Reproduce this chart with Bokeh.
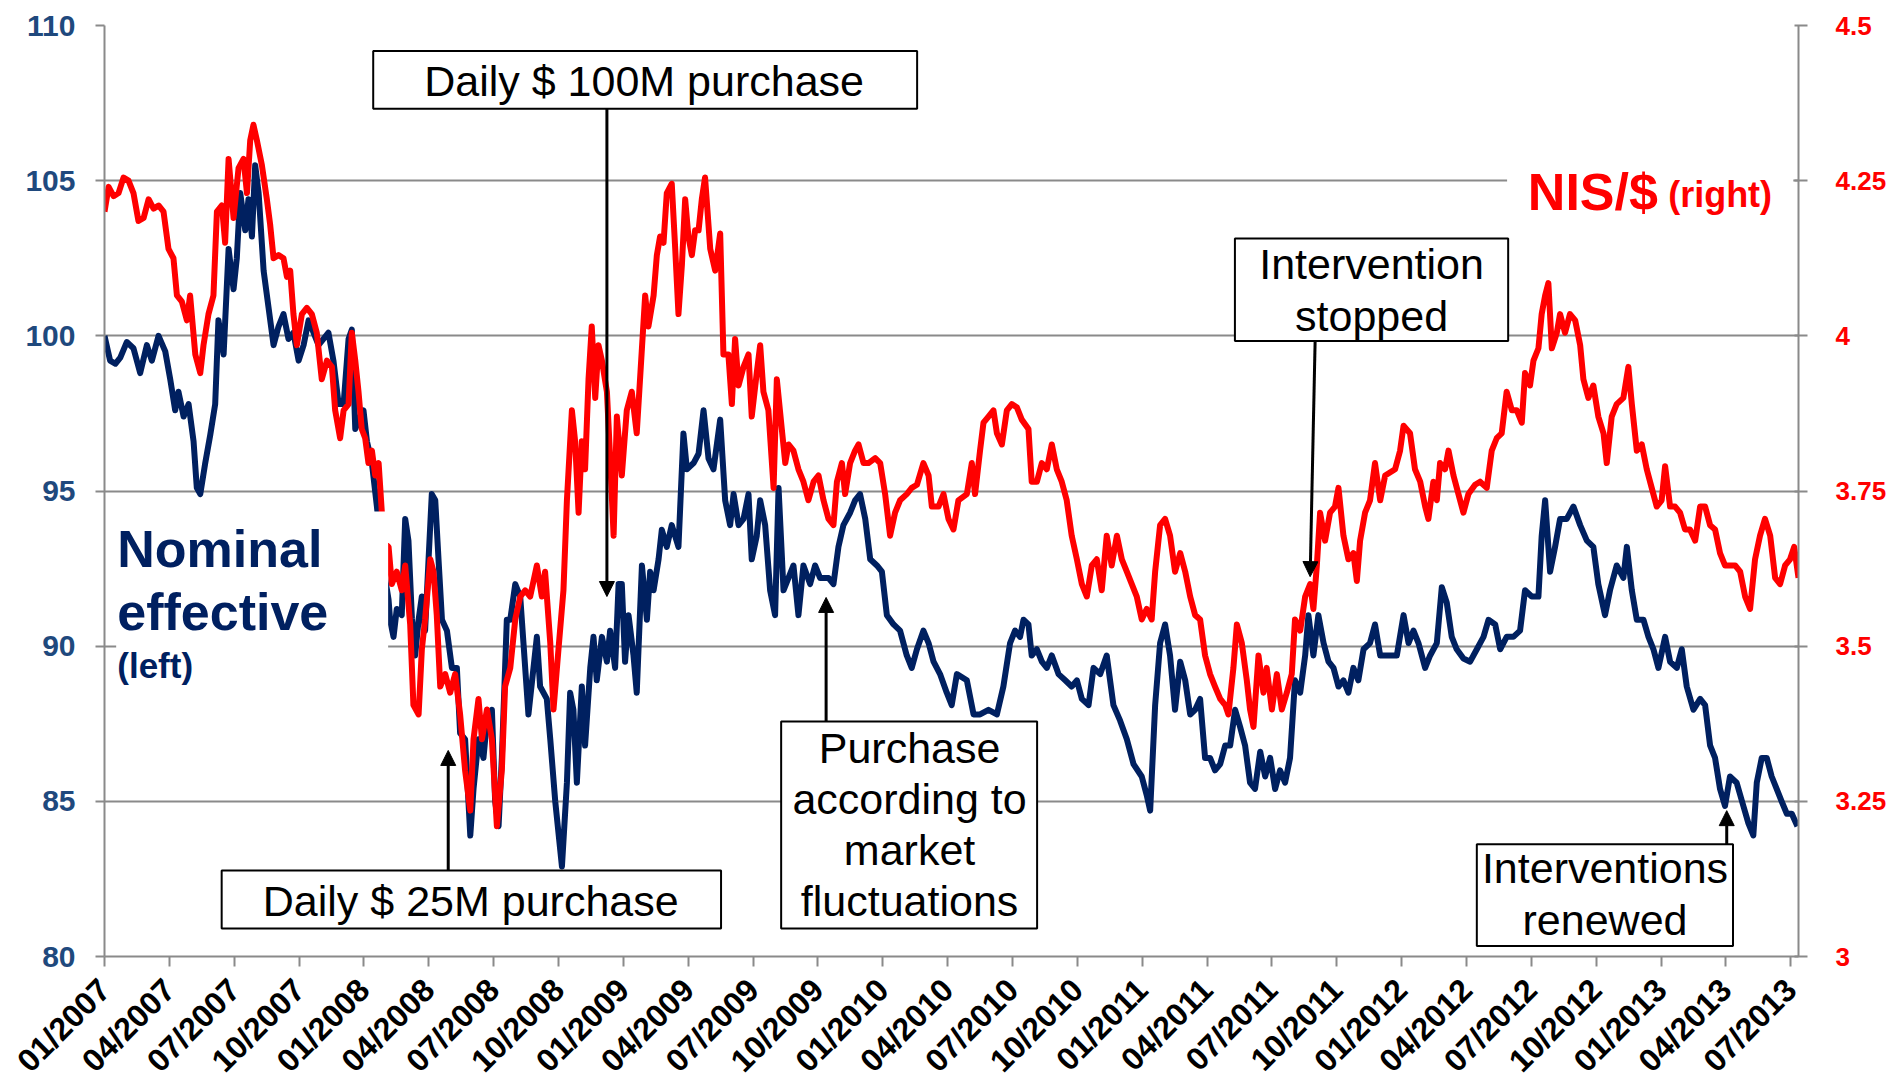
from bokeh.plotting import figure
from bokeh.models import (Range1d, LinearAxis, FixedTicker, NumeralTickFormatter,
                          BoxAnnotation, Label, Arrow, NormalHead, ColumnDataSource)
from bokeh.embed import file_html
from bokeh.resources import INLINE

# ---------------- data (x = months since 01/2007) ----------------
quarter_labels = ["01/2007", "04/2007", "07/2007", "10/2007", "01/2008", "04/2008", "07/2008",
                  "10/2008", "01/2009", "04/2009", "07/2009", "10/2009", "01/2010", "04/2010",
                  "07/2010", "10/2010", "01/2011", "04/2011", "07/2011", "10/2011", "01/2012",
                  "04/2012", "07/2012", "10/2012", "01/2013", "04/2013", "07/2013"]
quarter_pos = [3 * i for i in range(len(quarter_labels))]
left_ticks = [80, 85, 90, 95, 100, 105, 110]
right_ticks = [3.0, 3.25, 3.5, 3.75, 4.0, 4.25, 4.5]

blue_t = [0.00, 0.26, 0.50, 0.73, 1.03, 1.34, 1.65, 1.96, 2.19, 2.50, 2.81, 3.04, 3.27, 3.42, 3.66, 3.89,
          4.12, 4.27, 4.43, 4.66, 4.89, 5.12, 5.27, 5.51, 5.74, 5.97, 6.12, 6.28, 6.51, 6.66, 6.82, 6.97,
          7.13, 7.36, 7.59, 7.82, 8.05, 8.28, 8.51, 8.74, 8.98, 9.21, 9.44, 9.67, 9.90, 10.13, 10.36,
          10.59, 10.83, 11.06, 11.29, 11.44, 11.60, 11.83, 11.98, 12.14, 12.37, 12.60, 12.91, 13.14,
          13.21, 13.37, 13.52, 13.75, 13.91, 14.06, 14.22, 14.37, 14.53, 14.68, 14.83, 14.99, 15.14,
          15.30, 15.45, 15.61, 15.84, 16.07, 16.30, 16.45, 16.68, 16.92, 17.07, 17.30, 17.53, 17.69,
          17.92, 18.07, 18.23, 18.38, 18.61, 18.77, 19.00, 19.23, 19.38, 19.61, 20.00, 20.15, 20.46,
          20.62, 20.85, 21.16, 21.39, 21.54, 21.69, 21.85, 22.08, 22.23, 22.47, 22.62, 22.77, 23.01,
          23.24, 23.39, 23.62, 23.78, 23.93, 24.08, 24.24, 24.47, 24.62, 24.86, 25.09, 25.24, 25.40,
          25.63, 25.78, 26.01, 26.24, 26.55, 26.78, 26.94, 27.25, 27.48, 27.71, 27.94, 28.17, 28.48,
          28.71, 28.94, 29.10, 29.33, 29.56, 29.79, 29.94, 30.17, 30.33, 30.56, 30.79, 31.02, 31.18,
          31.41, 31.64, 31.87, 32.10, 32.33, 32.64, 32.87, 33.10, 33.49, 33.72, 33.95, 34.18, 34.49,
          34.72, 34.95, 35.19, 35.42, 35.73, 35.96, 36.19, 36.50, 36.80, 37.11, 37.34, 37.58, 37.88,
          38.12, 38.35, 38.65, 38.96, 39.19, 39.43, 39.89, 40.20, 40.50, 40.89, 41.28, 41.58, 41.89,
          42.12, 42.35, 42.51, 42.74, 42.89, 43.13, 43.36, 43.59, 43.82, 44.13, 44.44, 44.74, 44.98,
          45.21, 45.52, 45.75, 46.06, 46.36, 46.67, 46.98, 47.29, 47.60, 47.98, 48.21, 48.37, 48.60,
          48.83, 49.06, 49.29, 49.52, 49.76, 49.99, 50.22, 50.45, 50.68, 50.91, 51.14, 51.37, 51.61,
          51.84, 52.07, 52.30, 52.53, 52.76, 52.99, 53.22, 53.46, 53.69, 53.92, 54.15, 54.38, 54.61,
          54.84, 55.07, 55.31, 55.54, 55.69, 55.92, 56.15, 56.39, 56.62, 56.85, 57.08, 57.31, 57.54,
          57.77, 58.00, 58.24, 58.54, 58.77, 59.01, 59.31, 59.78, 60.09, 60.32, 60.55, 60.78, 61.09,
          61.32, 61.63, 61.86, 62.09, 62.32, 62.55, 62.86, 63.17, 63.48, 63.79, 64.02, 64.33, 64.56,
          64.86, 65.17, 65.48, 65.71, 66.02, 66.33, 66.48, 66.64, 66.87, 67.10, 67.33, 67.64, 67.95,
          68.26, 68.57, 68.87, 69.10, 69.41, 69.64, 69.95, 70.26, 70.42, 70.65, 70.88, 71.19, 71.42,
          71.65, 71.88, 72.19, 72.42, 72.73, 72.96, 73.19, 73.50, 73.81, 74.04, 74.27, 74.50, 74.73,
          74.96, 75.19, 75.50, 75.81, 76.04, 76.27, 76.43, 76.66, 76.89, 77.12, 77.35, 77.58, 77.82,
          78.05, 78.31]
blue_v = [100.0, 99.2, 99.1, 99.3, 99.8, 99.6, 98.8, 99.7, 99.2, 100.0, 99.5, 98.6, 97.6, 98.2, 97.4, 97.8,
          96.6, 95.1, 94.9, 95.9, 96.8, 97.8, 100.5, 99.4, 102.8, 101.5, 102.5, 104.6, 103.4, 104.4, 103.2,
          105.5, 104.6, 102.1, 100.9, 99.7, 100.3, 100.7, 99.9, 100.1, 99.2, 99.7, 100.5, 100.1, 99.7,
          99.9, 100.1, 99.2, 97.8, 97.8, 99.9, 100.2, 97.0, 97.4, 97.6, 96.6, 95.9, 94.5, 92.5, 91.5,
          90.85, 90.3, 91.2, 91.0, 94.1, 93.4, 90.9, 89.7, 90.85, 91.6, 90.5, 92.8, 94.9, 94.7, 92.8,
          90.85, 90.5, 89.3, 89.3, 87.2, 87.0, 83.9, 85.4, 87.0, 86.4, 87.6, 87.95, 85.0, 84.2, 86.4,
          90.85, 90.85, 92.0, 91.6, 90.1, 87.8, 90.3, 88.7, 88.3, 87.0, 85.0, 82.9, 85.6, 88.5, 87.95,
          85.6, 88.7, 86.8, 89.3, 90.3, 88.9, 90.3, 89.5, 90.5, 89.3, 92.0, 92.0, 89.5, 91.0, 89.7,
          88.5, 92.6, 90.85, 92.4, 91.8, 92.8, 93.75, 93.2, 93.9, 93.2, 96.85, 95.7, 95.9, 96.2, 97.6,
          96.05, 95.7, 97.3, 94.7, 93.9, 94.9, 93.9, 94.1, 94.9, 92.8, 93.55, 94.7, 93.9, 91.8, 91.0,
          95.1, 91.8, 92.2, 92.6, 91.0, 92.6, 92.0, 92.6, 92.2, 92.2, 92.0, 93.2, 93.9, 94.3, 94.7,
          94.9, 94.1, 92.8, 92.6, 92.4, 91.0, 90.7, 90.5, 89.7, 89.3, 89.9, 90.5, 90.1, 89.5, 89.1,
          88.5, 88.1, 89.1, 88.9, 87.8, 87.8, 87.95, 87.8, 88.7, 90.1, 90.5, 90.3, 90.85, 90.7, 89.7,
          89.9, 89.5, 89.3, 89.7, 89.1, 88.9, 88.7, 88.9, 88.3, 88.1, 89.3, 89.1, 89.7, 88.1, 87.6,
          87.0, 86.2, 85.8, 85.2, 84.7, 88.1, 90.1, 90.7, 89.7, 87.95, 89.5, 88.9, 87.8, 87.95, 88.3,
          86.4, 86.4, 86.0, 86.2, 86.8, 86.8, 87.95, 87.4, 86.8, 85.6, 85.4, 86.6, 85.8, 86.4, 85.4,
          86.0, 85.6, 86.4, 88.9, 88.5, 89.7, 91.0, 89.7, 91.0, 90.1, 89.5, 89.3, 88.7, 88.9, 88.5,
          89.3, 88.9, 89.9, 90.1, 90.7, 89.7, 89.7, 89.7, 91.0, 90.1, 90.5, 90.1, 89.3, 89.7, 90.1,
          91.9, 91.4, 90.3, 89.9, 89.6, 89.5, 89.9, 90.3, 90.85, 90.7, 89.9, 90.3, 90.3, 90.5, 91.8,
          91.6, 91.6, 93.55, 94.7, 92.4, 93.2, 94.1, 94.1, 94.5, 93.9, 93.4, 93.2, 92.0, 91.0, 91.8,
          92.6, 92.2, 93.2, 91.8, 90.85, 90.85, 90.3, 89.9, 89.3, 90.3, 89.5, 89.3, 89.9, 88.7, 87.95,
          88.3, 88.1, 86.8, 86.4, 85.4, 84.85, 85.8, 85.6, 84.85, 84.3, 83.9, 85.6, 86.4, 86.4, 85.8,
          85.4, 85.0, 84.6, 84.6, 84.2]

red_t = [0.00, 0.19, 0.42, 0.65, 0.88, 1.11, 1.34, 1.57, 1.81, 2.04, 2.27, 2.50, 2.73, 2.96, 3.19, 3.35,
         3.58, 3.81, 3.96, 4.20, 4.43, 4.58, 4.81, 5.04, 5.20, 5.43, 5.58, 5.74, 5.97, 6.20, 6.43, 6.59,
         6.74, 6.89, 7.05, 7.28, 7.51, 7.66, 7.82, 8.05, 8.28, 8.44, 8.59, 8.74, 8.90, 9.13, 9.36, 9.59,
         9.82, 10.05, 10.29, 10.52, 10.67, 10.90, 11.06, 11.29, 11.44, 11.60, 11.75, 11.90, 12.06,
         12.21, 12.37, 12.52, 12.68, 12.83, 12.98, 13.14, 13.29, 13.52, 13.75, 13.91, 14.14, 14.29,
         14.53, 14.68, 14.83, 15.07, 15.22, 15.37, 15.53, 15.76, 15.99, 16.22, 16.45, 16.68, 16.92,
         17.07, 17.30, 17.46, 17.69, 17.92, 18.15, 18.38, 18.53, 18.77, 19.00, 19.23, 19.46, 19.69,
         20.00, 20.23, 20.38, 20.62, 20.77, 21.00, 21.23, 21.39, 21.62, 21.77, 21.93, 22.08, 22.23,
         22.39, 22.54, 22.70, 22.85, 23.01, 23.24, 23.39, 23.55, 23.70, 23.93, 24.16, 24.39, 24.62,
         24.86, 25.01, 25.16, 25.40, 25.55, 25.70, 25.86, 26.01, 26.24, 26.40, 26.55, 26.71, 26.86,
         27.01, 27.17, 27.32, 27.48, 27.63, 27.78, 28.02, 28.25, 28.48, 28.63, 28.86, 29.02, 29.17,
         29.33, 29.56, 29.79, 29.94, 30.17, 30.33, 30.48, 30.71, 30.95, 31.10, 31.33, 31.49, 31.64,
         31.87, 32.10, 32.33, 32.56, 32.80, 33.03, 33.26, 33.49, 33.72, 33.88, 34.11, 34.26, 34.49,
         34.72, 34.88, 35.11, 35.34, 35.65, 35.88, 36.11, 36.34, 36.57, 36.80, 37.11, 37.34, 37.58,
         37.88, 38.12, 38.27, 38.58, 38.81, 39.04, 39.27, 39.50, 39.89, 40.12, 40.27, 40.50, 40.66,
         40.89, 41.12, 41.28, 41.51, 41.74, 41.97, 42.20, 42.43, 42.74, 42.89, 43.13, 43.36, 43.59,
         43.82, 44.05, 44.28, 44.51, 44.74, 44.98, 45.21, 45.44, 45.67, 45.90, 46.13, 46.36, 46.59,
         46.83, 47.06, 47.29, 47.52, 47.75, 47.98, 48.21, 48.44, 48.60, 48.83, 49.06, 49.29, 49.52,
         49.76, 49.99, 50.22, 50.45, 50.68, 50.91, 51.14, 51.37, 51.61, 51.84, 51.99, 52.22, 52.38,
         52.61, 52.84, 52.99, 53.15, 53.38, 53.61, 53.76, 54.00, 54.23, 54.46, 54.69, 54.92, 55.07,
         55.31, 55.54, 55.77, 55.92, 56.08, 56.23, 56.46, 56.69, 56.92, 57.08, 57.31, 57.54, 57.77,
         57.93, 58.08, 58.31, 58.54, 58.77, 59.01, 59.24, 59.70, 59.93, 60.09, 60.39, 60.62, 60.86,
         61.09, 61.24, 61.47, 61.63, 61.78, 62.01, 62.17, 62.40, 62.63, 62.86, 63.09, 63.40, 63.63,
         63.94, 64.17, 64.40, 64.63, 64.86, 65.10, 65.33, 65.56, 65.71, 65.94, 66.10, 66.33, 66.48,
         66.64, 66.79, 66.95, 67.18, 67.33, 67.56, 67.79, 68.03, 68.26, 68.41, 68.64, 68.87, 69.10,
         69.34, 69.49, 69.72, 69.95, 70.26, 70.49, 70.65, 70.88, 71.11, 71.34, 71.57, 71.80, 72.03,
         72.19, 72.42, 72.65, 72.88, 73.11, 73.34, 73.58, 73.81, 74.04, 74.27, 74.50, 74.73, 74.96,
         75.19, 75.43, 75.66, 75.89, 76.12, 76.35, 76.58, 76.81, 77.05, 77.28, 77.51, 77.74, 77.97,
         78.16, 78.36]
red_v = [4.200, 4.240, 4.225, 4.230, 4.255, 4.250, 4.230, 4.185, 4.190, 4.220, 4.205, 4.210, 4.200, 4.140,
         4.125, 4.065, 4.055, 4.025, 4.065, 3.970, 3.940, 3.985, 4.035, 4.065, 4.200, 4.210, 4.150, 4.285,
         4.190, 4.270, 4.285, 4.230, 4.315, 4.340, 4.315, 4.275, 4.220, 4.180, 4.125, 4.130, 4.125, 4.095,
         4.105, 4.035, 3.985, 4.035, 4.045, 4.035, 4.005, 3.930, 3.960, 3.950, 3.880, 3.835, 3.880, 3.890,
         4.005, 3.960, 3.910, 3.850, 3.835, 3.795, 3.815, 3.775, 3.795, 3.715, 3.665, 3.660, 3.600, 3.620,
         3.590, 3.630, 3.535, 3.405, 3.390, 3.495, 3.543, 3.640, 3.620, 3.550, 3.435, 3.455, 3.425, 3.455,
         3.390, 3.300, 3.235, 3.350, 3.415, 3.350, 3.398, 3.350, 3.210, 3.300, 3.435, 3.465, 3.543, 3.580,
         3.590, 3.580, 3.630, 3.580, 3.620, 3.505, 3.398, 3.495, 3.590, 3.735, 3.880, 3.830, 3.715, 3.830,
         3.785, 3.930, 4.015, 3.900, 3.985, 3.960, 3.910, 3.803, 3.678, 3.870, 3.775, 3.880, 3.910, 3.843,
         3.980, 4.065, 4.015, 4.065, 4.130, 4.160, 4.150, 4.230, 4.245, 4.140, 4.035, 4.115, 4.220, 4.160,
         4.130, 4.170, 4.170, 4.220, 4.255, 4.140, 4.105, 4.165, 3.970, 3.970, 3.890, 3.995, 3.920, 3.950,
         3.970, 3.870, 3.940, 3.985, 3.910, 3.880, 3.755, 3.930, 3.850, 3.795, 3.825, 3.815, 3.785, 3.765,
         3.735, 3.765, 3.775, 3.735, 3.705, 3.695, 3.765, 3.795, 3.745, 3.795, 3.815, 3.825, 3.795, 3.795,
         3.803, 3.795, 3.745, 3.678, 3.715, 3.735, 3.745, 3.755, 3.760, 3.795, 3.775, 3.725, 3.725, 3.745,
         3.705, 3.688, 3.735, 3.745, 3.795, 3.745, 3.815, 3.860, 3.870, 3.880, 3.843, 3.825, 3.880, 3.890,
         3.885, 3.865, 3.850, 3.765, 3.765, 3.795, 3.785, 3.825, 3.785, 3.765, 3.735, 3.678, 3.640, 3.600,
         3.580, 3.630, 3.640, 3.590, 3.678, 3.630, 3.678, 3.640, 3.620, 3.600, 3.580, 3.543, 3.560, 3.543,
         3.620, 3.695, 3.705, 3.678, 3.620, 3.650, 3.620, 3.580, 3.550, 3.543, 3.485, 3.455, 3.435, 3.415,
         3.405, 3.390, 3.465, 3.535, 3.505, 3.445, 3.398, 3.370, 3.485, 3.425, 3.465, 3.398, 3.455, 3.398,
         3.425, 3.455, 3.543, 3.525, 3.580, 3.600, 3.560, 3.630, 3.715, 3.670, 3.715, 3.725, 3.755, 3.678,
         3.640, 3.650, 3.605, 3.670, 3.715, 3.735, 3.795, 3.735, 3.775, 3.785, 3.815, 3.855, 3.843, 3.785,
         3.765, 3.725, 3.705, 3.765, 3.735, 3.795, 3.785, 3.815, 3.775, 3.745, 3.715, 3.745, 3.760, 3.765,
         3.755, 3.815, 3.835, 3.843, 3.910, 3.880, 3.880, 3.860, 3.940, 3.920, 3.960, 3.980, 4.035, 4.065,
         4.085, 3.980, 4.005, 4.035, 4.005, 4.035, 4.025, 3.985, 3.930, 3.900, 3.920, 3.870, 3.843, 3.795,
         3.870, 3.890, 3.900, 3.950, 3.890, 3.815, 3.825, 3.785, 3.755, 3.725, 3.735, 3.790, 3.725, 3.725,
         3.715, 3.688, 3.688, 3.670, 3.725, 3.725, 3.695, 3.688, 3.650, 3.630, 3.630, 3.630, 3.620, 3.580,
         3.560, 3.640, 3.678, 3.705, 3.678, 3.610, 3.600, 3.630, 3.640, 3.660, 3.610]

# ---------------- styles ----------------
BLUE = "#002060"
RED = "#FF0000"
TICK_BLUE = "#1F497D"
GRAY = "#8A8A8A"
FONT = "Liberation Sans"

p = figure(frame_width=1694, frame_height=931,
           x_range=Range1d(0, 78.36), y_range=Range1d(80, 110),
           output_backend="svg", toolbar_location=None,
           min_border_left=104, min_border_right=80, min_border_top=25, min_border_bottom=130)
p.extra_y_ranges = {"nis": Range1d(3.0, 4.5)}
p.outline_line_color = None
p.background_fill_color = "white"
p.border_fill_color = "white"

# grid
p.xgrid.visible = False
p.ygrid.ticker = FixedTicker(ticks=left_ticks)
p.ygrid.grid_line_color = GRAY
p.ygrid.grid_line_width = 2

# left axis
ya = p.yaxis[0]
ya.ticker = FixedTicker(ticks=left_ticks)
ya.axis_line_color = GRAY
ya.axis_line_width = 2
ya.major_tick_line_color = GRAY
ya.major_tick_line_width = 2
ya.major_tick_in = 0
ya.major_tick_out = 9
ya.minor_tick_line_color = None
ya.major_label_standoff = 20
ya.major_label_text_font = FONT
ya.major_label_text_font_style = "bold"
ya.major_label_text_font_size = "30px"
ya.major_label_text_color = TICK_BLUE

# bottom axis
xa = p.xaxis[0]
xa.ticker = FixedTicker(ticks=quarter_pos)
xa.major_label_overrides = {pos: lab for pos, lab in zip(quarter_pos, quarter_labels)}
xa.major_label_orientation = 3.14159265 / 4
xa.axis_line_color = GRAY
xa.axis_line_width = 2
xa.major_tick_line_color = GRAY
xa.major_tick_line_width = 2
xa.major_tick_in = 0
xa.major_tick_out = 10
xa.minor_tick_line_color = None
xa.major_label_standoff = 18
xa.major_label_text_font = FONT
xa.major_label_text_font_style = "bold"
xa.major_label_text_font_size = "32px"
xa.major_label_text_color = "black"

# right axis
ra = LinearAxis(y_range_name="nis", ticker=FixedTicker(ticks=right_ticks),
                formatter=NumeralTickFormatter(format="0.[00]"))
ra.axis_line_color = GRAY
ra.axis_line_width = 2
ra.major_tick_line_color = GRAY
ra.major_tick_line_width = 2
ra.major_tick_in = 4
ra.major_tick_out = 9
ra.minor_tick_line_color = None
ra.major_label_standoff = 28
ra.major_label_text_font = FONT
ra.major_label_text_font_style = "bold"
ra.major_label_text_font_size = "26px"
ra.major_label_text_color = RED
p.add_layout(ra, "right")

# series
blue_src = ColumnDataSource(dict(t=blue_t, v=blue_v))
red_src = ColumnDataSource(dict(t=red_t, v=red_v))
p.line("t", "v", source=blue_src, line_color=BLUE, line_width=6, line_join="round")
p.line("t", "v", source=red_src, line_color=RED, line_width=6, line_join="round", y_range_name="nis")

# white covers behind series labels
p.add_layout(BoxAnnotation(left=0.54, right=13.12, top=94.34, bottom=88.25,
                           fill_color="white", fill_alpha=1, line_color=None))
p.add_layout(BoxAnnotation(left=64.88, right=78.12, top=106.4, bottom=103.6,
                           fill_color="white", fill_alpha=1, line_color=None))

# series labels
for txt, yv, size in [("Nominal", 93.12, "52px"), ("effective", 91.11, "52px"), ("(left)", 89.38, "35px")]:
    p.add_layout(Label(x=0.59, y=yv, text=txt, text_font=FONT, text_font_style="bold",
                       text_font_size=size, text_color=BLUE, text_align="left",
                       text_baseline="alphabetic"))
p.add_layout(Label(x=65.84, y=104.64, text="NIS/$", text_font=FONT, text_font_style="bold",
                   text_font_size="52px", text_color=RED, text_align="left", text_baseline="alphabetic"))
p.add_layout(Label(x=72.33, y=104.54, text="(right)", text_font=FONT, text_font_style="bold",
                   text_font_size="36px", text_color=RED, text_align="left", text_baseline="alphabetic"))

# annotation boxes
boxes = [
    (12.43, 37.59, 109.18, 107.32, [("Daily $ 100M purchase", 24.96, 108.22)]),
    (5.42, 28.52, 82.77, 80.90, [("Daily $ 25M purchase", 16.94, 81.80)]),
    (31.30, 43.14, 87.57, 80.90, [("Purchase", 37.24, 86.72), ("according to", 37.24, 85.06),
                                  ("market", 37.24, 83.43), ("fluctuations", 37.24, 81.80)]),
    (52.29, 64.93, 103.14, 99.83, [("Intervention", 58.61, 102.31), ("stopped", 58.61, 100.65)]),
    (63.48, 75.33, 83.62, 80.34, [("Interventions", 69.41, 82.84), ("renewed", 69.41, 81.18)]),
]
for l, r, t, b, lines in boxes:
    p.add_layout(BoxAnnotation(left=l, right=r, top=t, bottom=b, fill_color="white", fill_alpha=1,
                               line_color="black", line_alpha=1, line_width=2))
    for txt, xx, yy in lines:
        p.add_layout(Label(x=xx, y=yy, text=txt, text_font=FONT, text_font_size="43px",
                           text_color="black", text_align="center", text_baseline="middle"))

arrows = [
    (23.24, 107.32, 23.24, 91.60),
    (15.90, 82.77, 15.90, 86.64),
    (33.38, 87.57, 33.38, 91.57),
    (56.00, 99.83, 55.77, 92.24),
    (75.04, 83.62, 75.04, 84.70),
]
for xs, ys, xe, ye in arrows:
    p.add_layout(Arrow(end=NormalHead(size=15, fill_color="black", line_color="black", line_width=1),
                       x_start=xs, y_start=ys, x_end=xe, y_end=ye,
                       line_color="black", line_width=3))

open("out.html", "w").write(file_html(p, INLINE))
